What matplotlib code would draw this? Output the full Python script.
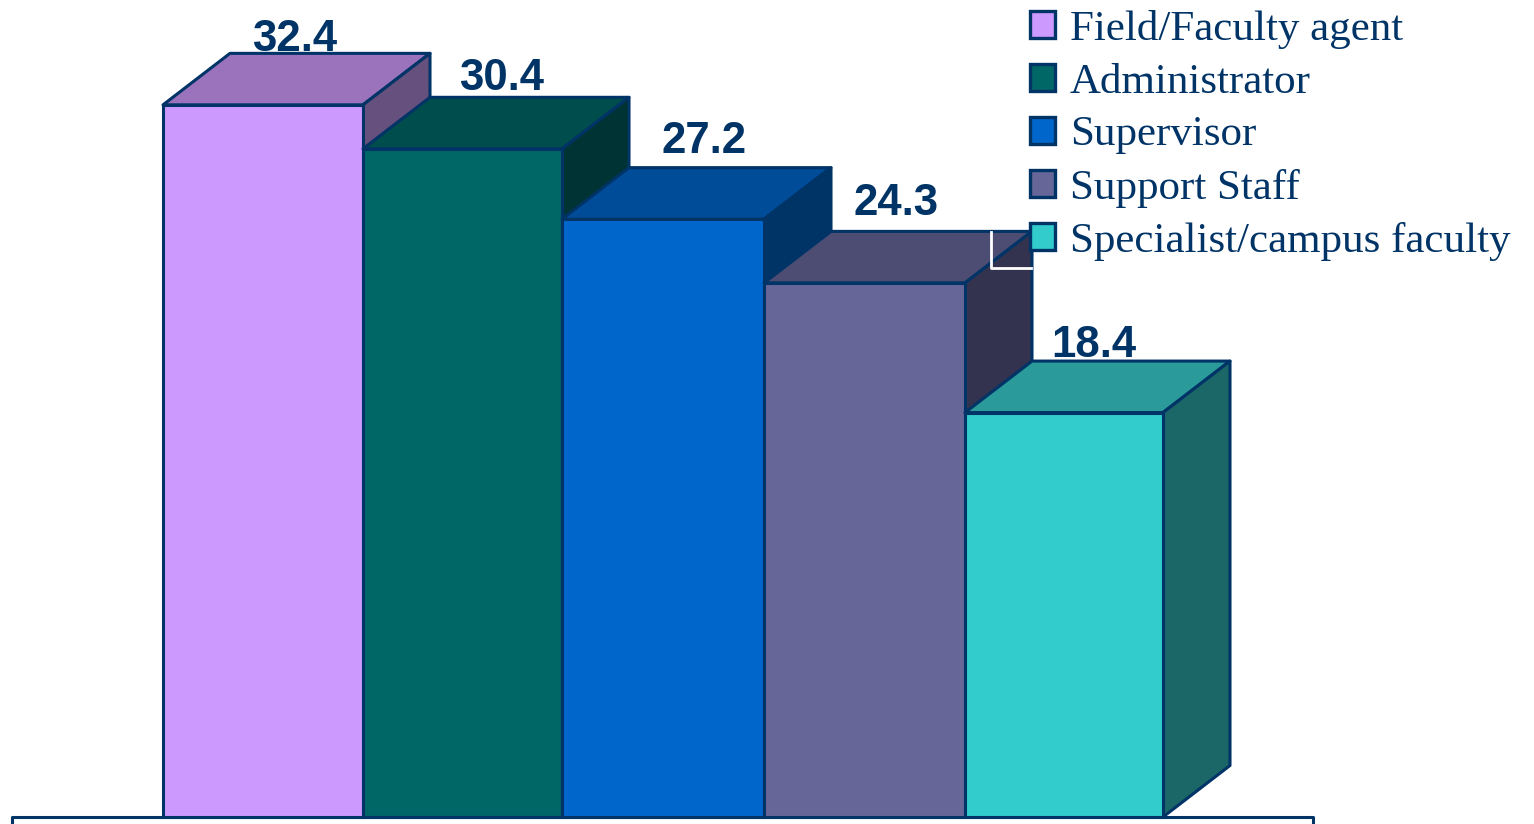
import matplotlib
matplotlib.use('Agg')
import matplotlib.pyplot as plt
from matplotlib.patches import Patch, Polygon

categories = ['Field/Faculty agent', 'Administrator', 'Supervisor', 'Support Staff', 'Specialist/campus faculty']
values = [32.4, 30.4, 27.2, 24.3, 18.4]
front_colors = ['#CC99FF', '#006666', '#0066CC', '#666699', '#33CCCC']
top_colors = ['#9A73BC', '#004D4D', '#004C99', '#4D4D73', '#2A9A9A']
side_colors = ['#66507E', '#003333', '#003366', '#333350', '#1B6666']
edge = '#003366'

W, H = 1534, 824
# Calibration (pixel -> data)
px_x = 200.0   # one bar
px_y = 21.98   # one percent
x0, y0 = 163, 817
dx, dy = 67 / px_x, 51.5 / px_y  # 3d depth

# bar edges are not quite even in the original
bar_edges = [0, 1, 1.995, 3.005, 4.01, 5.0]

# label nudges, pixels from the middle of the back top edge
label_dx = [-35, -28, -26, -35, -37]
label_dy = [2, 7, 15, 16, 4]

fig = plt.figure(figsize=(W / 100, H / 100), dpi=100)
ax = fig.add_axes([0, 0, 1, 1])
ax.set_xlim(-x0 / px_x, (W - x0) / px_x)
ax.set_ylim((y0 - H) / px_y, y0 / px_y)
ax.axis('off')

for i, v in enumerate(values):
    z = 2 + i
    a, b = bar_edges[i], bar_edges[i + 1]
    ax.add_patch(Polygon([(a, v), (a + dx, v + dy), (b + dx, v + dy), (b, v)],
                         fc=top_colors[i], ec=edge, lw=2.2, joinstyle='round', zorder=z))
    ax.add_patch(Polygon([(b, 0), (b + dx, dy), (b + dx, v + dy), (b, v)],
                         fc=side_colors[i], ec=edge, lw=2.2, joinstyle='round', zorder=z))
    ax.bar(a, v, width=b - a, align='edge', color=front_colors[i], edgecolor=edge, lw=2.2, zorder=z)
    ax.annotate(f'{v:.1f}', xy=((a + b) / 2 + dx, v + dy), xytext=(label_dx[i], label_dy[i]),
                textcoords='offset pixels', ha='center', va='baseline', color=edge,
                fontsize=31.5, fontweight='bold', family='Liberation Sans', zorder=10)

# floor outline
ax.plot([-0.755, -0.755, 5.75, 5.75], [-0.35, 0, 0, -0.35], color=edge, lw=2.2, zorder=1)

# stray white corner from the legend box
ax.plot([(991 - x0) / px_x, (991 - x0) / px_x, (1031 - x0) / px_x],
        [(y0 - 232) / px_y, (y0 - 268) / px_y, (y0 - 268) / px_y],
        color='white', lw=2, zorder=9)

handles = [Patch(fc=c, ec=edge, lw=2.4) for c in front_colors]
leg = ax.legend(handles, categories, loc='upper left', bbox_to_anchor=(1030 / W, 1 - 10 / H),
                bbox_transform=fig.transFigure, frameon=False, borderaxespad=0, borderpad=0,
                prop={'family': 'Liberation Serif', 'size': 31}, labelcolor=edge,
                handlelength=0.58, handleheight=0.58, handletextpad=0.35, labelspacing=0.33)
leg.set_zorder(12)

fig.savefig('out.png', dpi=100)
